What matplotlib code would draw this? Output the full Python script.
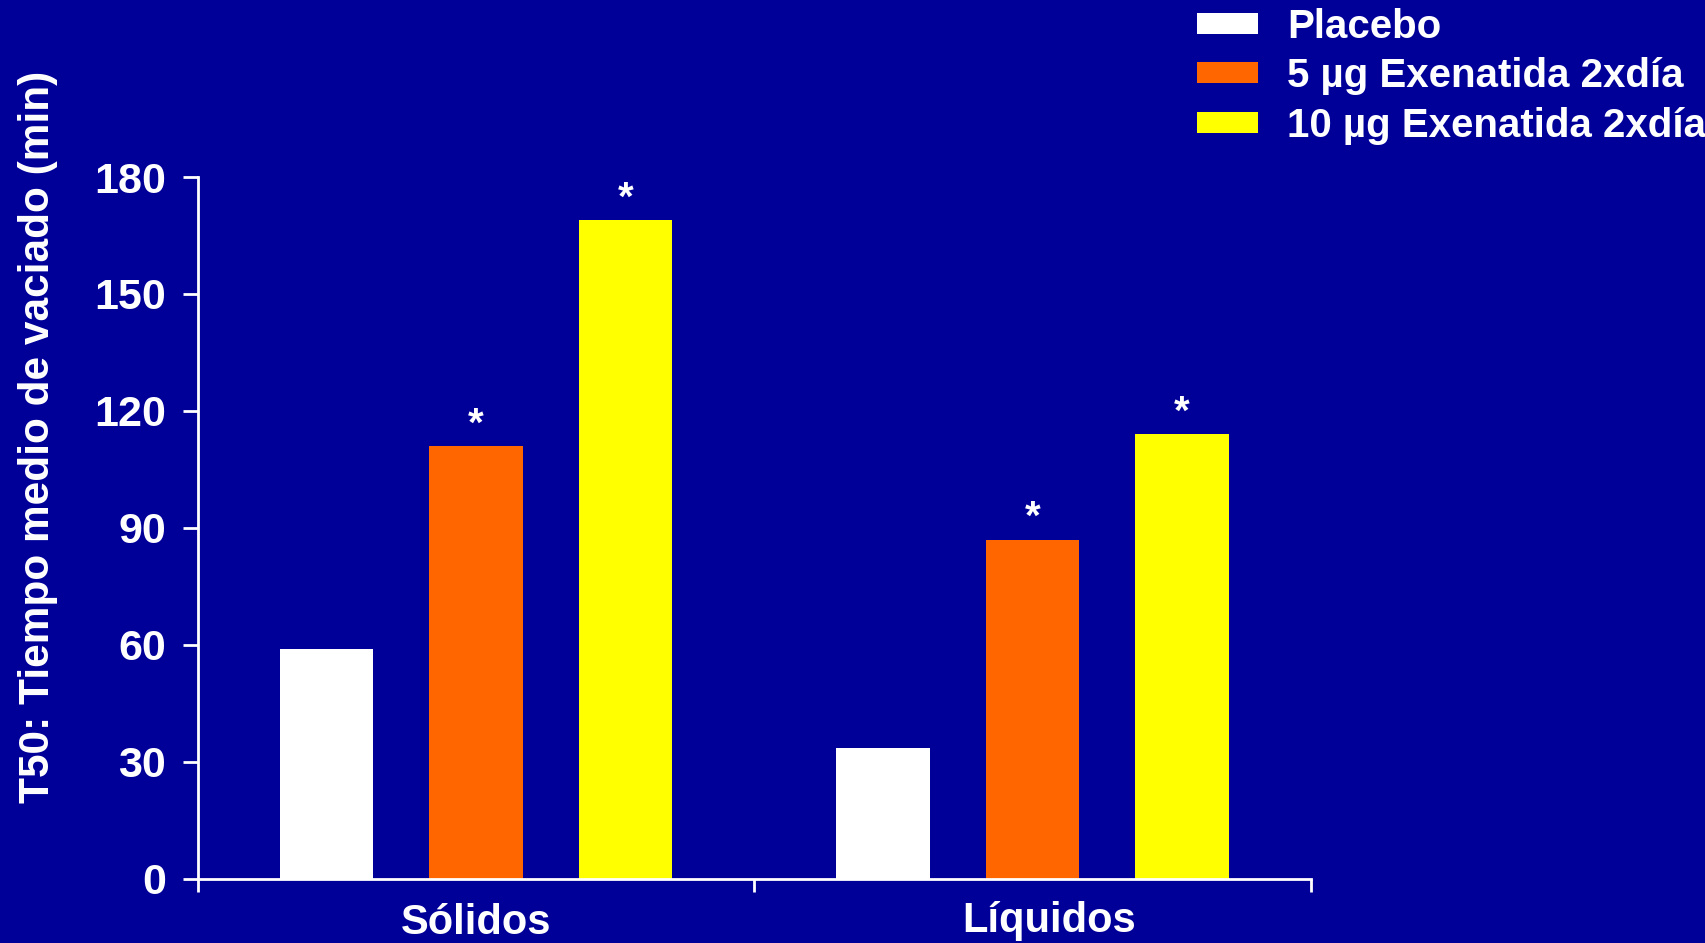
import matplotlib
matplotlib.use('Agg')
import numpy as np
from matplotlib import pyplot as plt
from matplotlib.transforms import ScaledTranslation

# T50 de vaciado gástrico por tipo de comida y tratamiento
categorias = ['Sólidos', 'Líquidos']
series = ['Placebo', '5 µg Exenatida 2xdía', '10 µg Exenatida 2xdía']
placebo = [59, 33.5]
exenatida_5 = [111, 87]
exenatida_10 = [169, 114]
# diferencia significativa frente a placebo (*)
signif_5 = [True, True]
signif_10 = [True, True]

fondo = '#000099'
colores = ['#FFFFFF', '#FF6600', '#FFFF00']

plt.rcParams['font.family'] = ['Liberation Sans', 'DejaVu Sans']
plt.rcParams['font.weight'] = 'bold'

fig = plt.figure(figsize=(17.05, 9.43), dpi=100, facecolor=fondo)
ax = fig.add_axes([0.1161, 0.0679, 0.6528, 0.7444])
ax.set_facecolor(fondo)

x = np.arange(len(categorias))
paso = 0.2686
ancho = 0.168
valores = [placebo, exenatida_5, exenatida_10]
signos = [[False, False], signif_5, signif_10]

for i, (vals, color, nombre) in enumerate(zip(valores, colores, series)):
    pos = x + (i - 1) * paso
    ax.bar(pos, vals, width=ancho, color=color, label=nombre, linewidth=0)
    # asteriscos encima de las barras significativas
    for p, v, s in zip(pos, vals, signos[i]):
        if s:
            ax.annotate('*', (p, v), xytext=(0, 7.5), textcoords='offset points',
                        ha='center', va='baseline', fontsize=29,
                        color='white', fontweight='bold')

ax.set_xlim(-0.5, 1.5)
ax.set_ylim(0, 180)
ax.set_yticks(np.arange(0, 181, 30))
ax.set_xticks(x)
ax.set_xticklabels(categorias)
ax.set_xticks([-0.5, 0.5, 1.5], minor=True)

for lado in ['top', 'right']:
    ax.spines[lado].set_visible(False)
for lado in ['left', 'bottom']:
    ax.spines[lado].set_color('white')
    ax.spines[lado].set_linewidth(2)

ax.tick_params(axis='y', colors='white', length=11, width=2, pad=12, labelsize=31)
ax.tick_params(axis='x', which='major', colors='white', length=0, pad=16, labelsize=30)
ax.tick_params(axis='x', which='minor', colors='white', length=9, width=2)

# pequeños desplazamientos de las etiquetas de categoría
desplazamientos = [(0, -2), (16, 0)]
for etiqueta, (dx, dy) in zip(ax.get_xticklabels(), desplazamientos):
    etiqueta.set_transform(etiqueta.get_transform() +
                           ScaledTranslation(dx / 100, dy / 100, fig.dpi_scale_trans))

ax.set_ylabel('T50: Tiempo medio de vaciado (min)', fontsize=30.5,
              color='white', fontweight='bold', va='center')
ax.yaxis.set_label_coords(-0.1438, 0.630)

ax.legend(loc='upper left', bbox_to_anchor=(0.702, 0.992),
          bbox_transform=fig.transFigure, frameon=False,
          prop={'size': 29, 'weight': 'bold'}, labelcolor='white',
          handlelength=1.52, handleheight=0.43, handletextpad=0.72,
          labelspacing=0.29, borderpad=0, borderaxespad=0)

fig.savefig('out.png', dpi=100, facecolor=fig.get_facecolor())
